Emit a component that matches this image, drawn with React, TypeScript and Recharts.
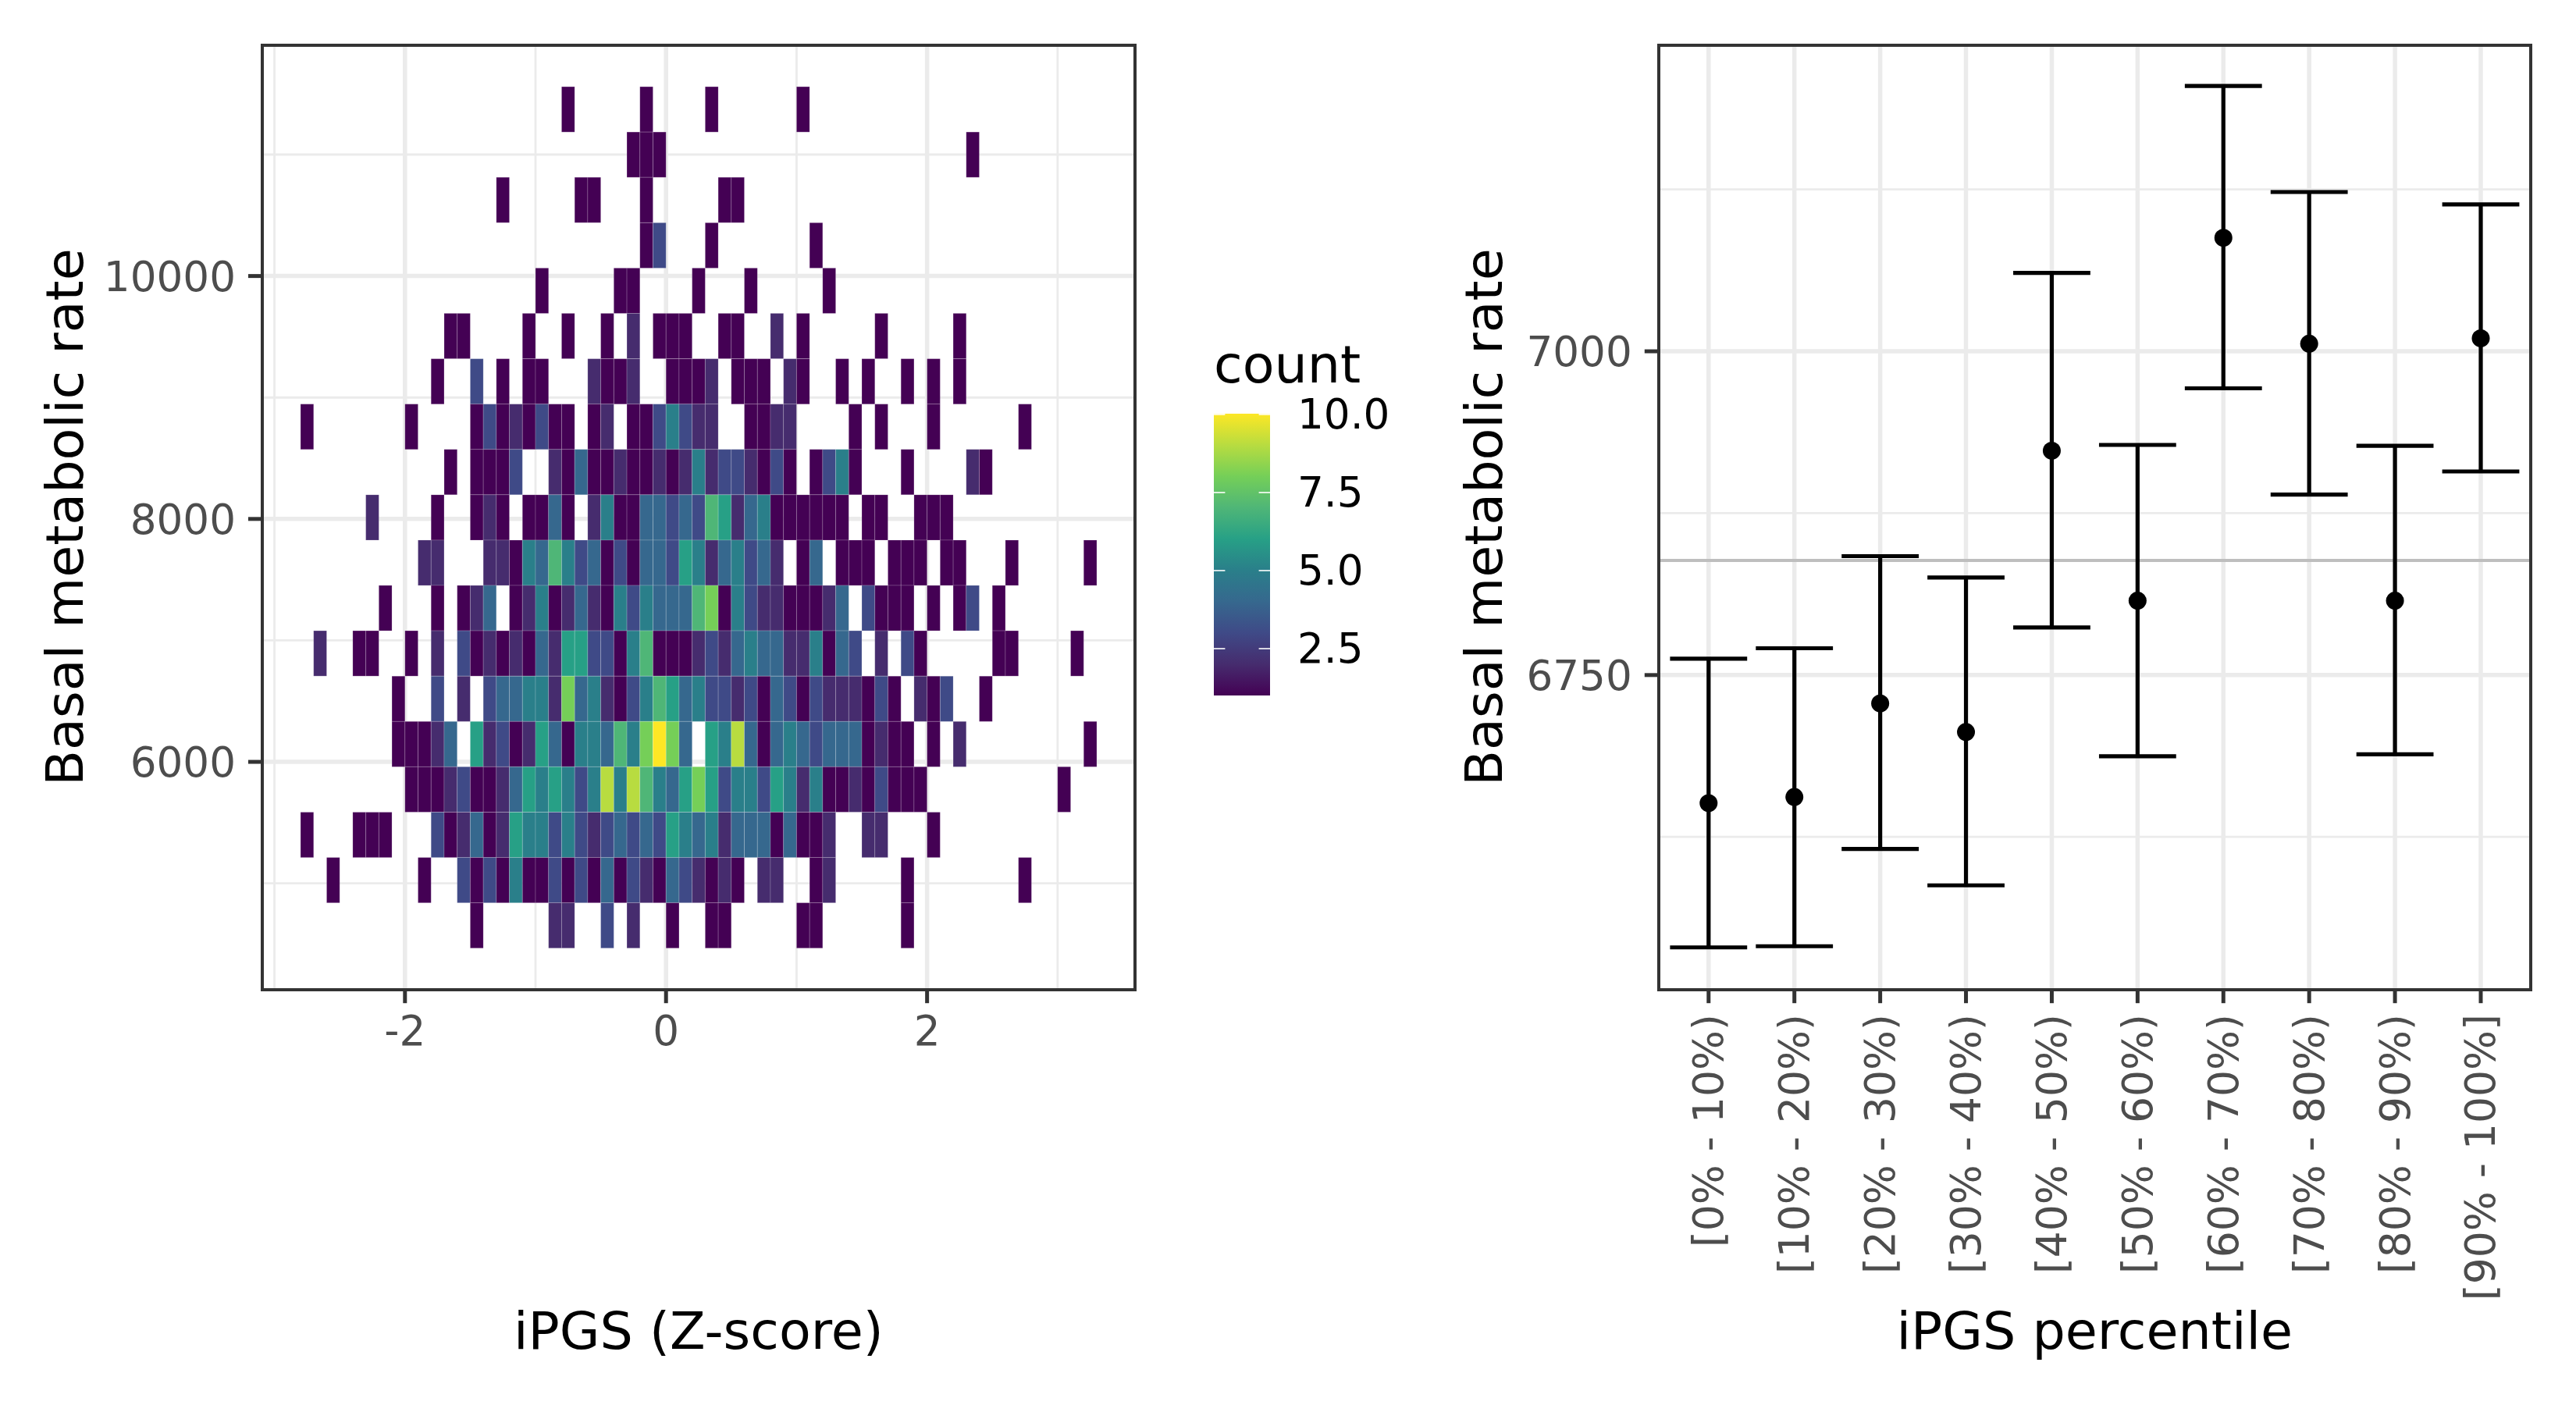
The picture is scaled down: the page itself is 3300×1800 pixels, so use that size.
import React from "react";
import { ScatterChart, Scatter, XAxis, YAxis, ReferenceLine, ErrorBar } from "recharts";

// ---------- left panel: 2D histogram, [column index (x bin of 0.1), count] per row ----------
const rowCentres = [11372, 10999, 10626, 10252, 9879, 9506, 9132, 8759, 8386, 8012, 7639, 7266, 6893, 6519, 6146, 5773, 5399, 5026, 4653];
const row01 = [[-8,1],[-2,1],[3,1],[10,1]];
const row02 = [[-3,1],[-2,1],[-1,1],[23,1]];
const row03 = [[-13,1],[-7,1],[-6,1],[-2,1],[4,1],[5,1]];
const row04 = [[-2,1],[-1,3],[3,1],[11,1]];
const row05 = [[-10,1],[-4,1],[-3,1],[2,1],[6,1],[12,1]];
const row06 = [[-17,1],[-16,1],[-11,1],[-8,1],[-5,1],[-3,2],[-1,1],[0,1],[1,1],[4,1],[5,1],[8,2],[10,1],[16,1],[22,1]];
const row07 = [[-18,1],[-15,3],[-13,1],[-11,1],[-10,1],[-6,2],[-5,1],[-4,1],[-3,2],[0,1],[1,1],[2,1],[3,2],[5,1],[6,1],[7,1],[9,2],[10,1],[13,1],[15,1],[18,1],[20,1],[22,1]];
const row08 = [[-28,1],[-20,1],[-15,1],[-14,3],[-13,1],[-12,2],[-11,1],[-10,3],[-9,1],[-8,1],[-6,1],[-5,2],[-3,1],[-2,1],[-1,3],[0,5],[1,3],[2,2],[3,2],[6,1],[7,1],[8,2],[9,2],[14,1],[16,1],[20,1],[27,1]];
const row09 = [[-17,1],[-15,1],[-14,1],[-13,1],[-12,3],[-9,2],[-8,1],[-7,4],[-6,1],[-5,1],[-4,2],[-3,1],[-2,1],[-1,2],[0,1],[1,2],[2,5],[3,2],[4,3],[5,3],[6,2],[7,1],[8,3],[9,1],[11,1],[12,3],[13,5],[14,1],[18,1],[23,2],[24,1]];
const row10 = [[-23,2],[-18,1],[-15,1],[-14,2],[-13,1],[-11,1],[-10,1],[-9,4],[-8,1],[-6,2],[-5,5],[-4,1],[-3,1],[-2,4],[-1,4],[0,3],[1,4],[2,3],[3,7],[4,6],[5,2],[6,4],[7,5],[8,1],[9,1],[10,1],[11,1],[12,1],[13,1],[15,1],[16,1],[19,1],[20,1],[21,1]];
const row11 = [[-19,2],[-18,2],[-14,2],[-13,2],[-12,1],[-11,5],[-10,4],[-9,7],[-8,5],[-7,3],[-6,4],[-5,1],[-4,3],[-3,1],[-2,4],[-1,4],[0,3],[1,6],[2,5],[3,2],[4,4],[5,5],[6,3],[7,4],[8,2],[10,1],[11,4],[13,1],[14,1],[15,1],[17,1],[18,1],[19,1],[21,1],[22,1],[26,1],[32,1]];
const row12 = [[-22,1],[-18,1],[-16,1],[-15,2],[-14,4],[-12,1],[-11,2],[-10,5],[-9,1],[-8,2],[-7,4],[-6,2],[-5,1],[-4,5],[-3,3],[-2,5],[-1,4],[0,4],[1,4],[2,7],[3,8],[4,1],[5,5],[6,3],[7,2],[8,2],[9,1],[10,1],[11,1],[12,2],[13,4],[15,3],[16,1],[17,1],[18,1],[20,1],[22,1],[23,3],[25,1]];
const row13 = [[-27,2],[-24,1],[-23,1],[-20,1],[-18,2],[-16,3],[-15,1],[-14,2],[-13,1],[-12,2],[-11,1],[-10,4],[-9,2],[-8,6],[-7,6],[-6,3],[-5,3],[-4,1],[-3,5],[-2,7],[-1,1],[0,1],[1,1],[2,2],[3,3],[4,2],[5,4],[6,5],[7,4],[8,4],[9,2],[10,2],[11,5],[12,1],[13,4],[14,3],[16,2],[18,3],[19,1],[25,1],[26,1],[31,1]];
const row14 = [[-21,1],[-18,3],[-16,2],[-14,3],[-13,4],[-12,4],[-11,5],[-10,5],[-9,2],[-8,8],[-7,4],[-6,5],[-5,2],[-4,1],[-3,3],[-2,5],[-1,7],[0,6],[1,4],[2,5],[3,3],[4,3],[5,2],[6,3],[7,1],[8,4],[9,3],[10,1],[11,3],[12,2],[13,2],[14,2],[15,1],[16,3],[17,1],[19,2],[20,1],[21,3],[24,1]];
const row15 = [[-21,1],[-20,1],[-19,1],[-18,2],[-17,4],[-15,6],[-14,2],[-13,3],[-12,1],[-11,2],[-10,6],[-9,4],[-8,1],[-7,5],[-6,5],[-5,4],[-4,7],[-3,5],[-2,8],[-1,10],[0,8],[1,4],[3,6],[4,5],[5,9],[6,4],[7,1],[8,4],[9,5],[10,4],[11,3],[12,4],[13,4],[14,4],[15,1],[16,2],[17,1],[18,1],[20,1],[22,2],[32,1]];
const row16 = [[-20,1],[-19,1],[-18,1],[-17,2],[-16,3],[-15,1],[-14,1],[-13,2],[-12,4],[-11,6],[-10,5],[-9,6],[-8,5],[-7,3],[-6,5],[-5,9],[-4,5],[-3,9],[-2,7],[-1,5],[0,4],[1,6],[2,8],[3,6],[4,3],[5,5],[6,5],[7,3],[8,6],[9,5],[10,2],[11,5],[12,1],[13,1],[14,2],[15,1],[16,3],[17,1],[18,1],[19,1],[30,1]];
const row17 = [[-28,1],[-24,1],[-23,1],[-22,1],[-18,3],[-17,1],[-16,2],[-15,4],[-14,1],[-13,2],[-12,6],[-11,5],[-10,5],[-9,3],[-8,5],[-7,3],[-6,2],[-5,3],[-4,4],[-3,3],[-2,4],[-1,3],[0,6],[1,5],[2,4],[3,5],[4,2],[5,4],[6,4],[7,4],[8,1],[9,4],[10,1],[11,1],[12,2],[15,2],[16,2],[20,1]];
const row18 = [[-26,1],[-19,1],[-16,3],[-15,1],[-14,3],[-13,1],[-12,5],[-11,1],[-10,1],[-9,3],[-8,1],[-7,3],[-6,1],[-5,4],[-4,1],[-3,3],[-2,2],[-1,1],[0,4],[1,3],[2,2],[3,1],[4,2],[5,1],[7,2],[8,2],[11,1],[12,2],[18,1],[27,1]];
const row19 = [[-15,1],[-9,2],[-8,2],[-5,3],[-3,2],[0,1],[3,1],[4,1],[10,1],[11,1],[18,1]];
const heatRows = [row01,row02,row03,row04,row05,row06,row07,row08,row09,row10,row11,row12,row13,row14,row15,row16,row17,row18,row19];

const zTicksMajor = [-2, 0, 2];
const zTicksMinor = [-3, -1, 1, 3];
const bmrTicksMajor = [6000, 8000, 10000];
const bmrTicksMinor = [5000, 7000, 9000, 11000];

// ---------- right panel: percentile bins ----------
const percentileBins = ["[0% - 10%)","[10% - 20%)","[20% - 30%)","[30% - 40%)","[40% - 50%)","[50% - 60%)","[60% - 70%)","[70% - 80%)","[80% - 90%)","[90% - 100%]"];
const binMeans = [6651.1, 6655.8, 6728.1, 6706, 6923.2, 6807.4, 7087.6, 7005.9, 6807.4, 7010];
const binLower = [6539.7, 6540.6, 6615.7, 6587.6, 6786.7, 6687.3, 6971.4, 6889.3, 6688.8, 6907.2];
const binUpper = [6762.6, 6770.7, 6841.8, 6825.3, 7060.5, 6927.7, 7204.9, 7123, 6927, 7113.4];
const overallMean = 6838.5;
const rightTicksMajor = [6750, 7000];
const rightTicksMinor = [6625, 6875, 7125];

const countLegendTicks = [2.5, 5, 7.5, 10];
const countPalette = ["#440154","#462c6e","#3f4a87","#36688e","#2a7f8a","#27a086","#4fb677","#75cf58","#b8dc40","#fde725"];

const FONT = "'DejaVu Sans'";
const GRID = "#ebebeb";
const X_DOMAIN = [-3.095, 3.593];
const Y_DOMAIN = [4127, 11903];
const L = { left: 335.7, right: 1454, top: 57.5, bottom: 1267.5 };
const R = { left: 2124.5, right: 3242, top: 57.5, bottom: 1267.5 };
const BIN_PX_W = ((L.right - L.left) / (X_DOMAIN[1] - X_DOMAIN[0])) * 0.1;
const BIN_PX_H = ((L.bottom - L.top) / (Y_DOMAIN[1] - Y_DOMAIN[0])) * 373.3;

const heatCells = heatRows.flatMap((row, i) => row.map(([k, n]) => ({ x: (k + 0.5) * 0.1, y: rowCentres[i], n })));
const pointRows = percentileBins.map((bin, i) => ({
  bin,
  mean: binMeans[i],
  err: [binMeans[i] - binLower[i], binUpper[i] - binMeans[i]],
}));

const HeatCell = (p: any) => (
  <rect
    x={p.cx - BIN_PX_W / 2}
    y={p.cy - BIN_PX_H / 2}
    width={BIN_PX_W}
    height={BIN_PX_H}
    fill={countPalette[p.payload.n - 1]}
    stroke="rgba(255,255,255,0.18)"
    strokeWidth={1}
  />
);
const Dot = (p: any) => <circle cx={p.cx} cy={p.cy} r={11.5} fill="#000" />;

const RotatedTick = (p: any) => (
  <text
    x={p.x}
    y={p.y}
    transform={`rotate(-90 ${p.x} ${p.y})`}
    textAnchor="end"
    dominantBaseline="central"
    fontFamily={FONT}
    fontSize={53.5}
    fill="#4d4d4d"
  >
    {p.payload.value}
  </text>
);

const tickStyle = { fontFamily: FONT, fontSize: 53.2, fill: "#4d4d4d" };
const titleStyle = { fontFamily: FONT, fontSize: 66.7, fill: "#000" };
const tickLine = { stroke: "#333", strokeWidth: 5 };

const Frame = ({ b }: { b: typeof L }) => (
  <div
    style={{
      position: "absolute",
      left: b.left - 2,
      top: b.top - 2,
      width: b.right - b.left + 4,
      height: b.bottom - b.top + 4,
      boxSizing: "border-box",
      border: "4px solid #333",
      pointerEvents: "none",
    }}
  />
);

const major = (k: string, props: any) => <ReferenceLine key={k} {...props} stroke={GRID} strokeWidth={5.5} />;
const minor = (k: string, props: any) => <ReferenceLine key={k} {...props} stroke={GRID} strokeWidth={2.8} />;

export default function App() {
  return (
    <div style={{ position: "absolute", left: 0, top: 0, width: 3300, height: 1800, background: "#fff", overflow: "hidden" }}>
      <div style={{ position: "absolute", left: 0, top: 0 }}>
        <ScatterChart width={1500} height={1800} margin={{ top: L.top, right: 1500 - L.right, left: 0, bottom: 0 }}>
          <XAxis
            type="number"
            dataKey="x"
            domain={X_DOMAIN}
            ticks={zTicksMajor}
            allowDataOverflow
            height={1800 - L.bottom}
            tick={tickStyle}
            tickLine={tickLine}
            axisLine={false}
            tickSize={17.7}
            tickMargin={16}
            interval={0}
            label={{ value: "iPGS (Z-score)", position: "insideBottom", offset: 72, style: titleStyle }}
          />
          <YAxis
            type="number"
            dataKey="y"
            domain={Y_DOMAIN}
            ticks={bmrTicksMajor}
            allowDataOverflow
            width={L.left}
            tick={tickStyle}
            tickLine={tickLine}
            axisLine={false}
            tickSize={17.7}
            tickMargin={16}
            interval={0}
            label={{ value: "Basal metabolic rate", angle: -90, position: "insideLeft", offset: 82, style: { ...titleStyle, textAnchor: "middle" } }}
          />
          {bmrTicksMinor.map((v) => minor(`ym${v}`, { y: v }))}
          {zTicksMinor.map((v) => minor(`xm${v}`, { x: v }))}
          {bmrTicksMajor.map((v) => major(`yM${v}`, { y: v }))}
          {zTicksMajor.map((v) => major(`xM${v}`, { x: v }))}
          <Scatter data={heatCells} shape={HeatCell} isAnimationActive={false} />
        </ScatterChart>
      </div>
      <Frame b={L} />

      <div style={{ position: "absolute", left: 1800, top: 0 }}>
        <ScatterChart width={1500} height={1800} margin={{ top: R.top, right: 3300 - R.right, left: 0, bottom: 0 }}>
          <XAxis
            type="category"
            dataKey="bin"
            scale="point"
            allowDuplicatedCategory={false}
            padding={{ left: 64.3, right: 64 }}
            height={1800 - R.bottom}
            tick={RotatedTick}
            tickLine={tickLine}
            axisLine={false}
            tickSize={17.7}
            tickMargin={14}
            interval={0}
            label={{ value: "iPGS percentile", position: "insideBottom", offset: 72, style: titleStyle }}
          />
          <YAxis
            type="number"
            dataKey="mean"
            domain={[6507.3, 7236.6]}
            ticks={rightTicksMajor}
            allowDataOverflow
            width={R.left - 1800}
            tick={tickStyle}
            tickLine={tickLine}
            axisLine={false}
            tickSize={17.7}
            tickMargin={16}
            interval={0}
            label={{ value: "Basal metabolic rate", angle: -90, position: "insideLeft", offset: 100, style: { ...titleStyle, textAnchor: "middle" } }}
          />
          {rightTicksMinor.map((v) => minor(`rm${v}`, { y: v }))}
          {rightTicksMajor.map((v) => major(`rM${v}`, { y: v }))}
          {percentileBins.map((b) => major(`rx${b}`, { x: b }))}
          <ReferenceLine y={overallMean} stroke="#bebebe" strokeWidth={4} />
          <Scatter data={pointRows} shape={Dot} isAnimationActive={false}>
            <ErrorBar dataKey="err" direction="y" width={49.4} stroke="#000" strokeWidth={5.2} isAnimationActive={false} />
          </Scatter>
        </ScatterChart>
      </div>
      <Frame b={R} />

      <svg width={3300} height={1800} style={{ position: "absolute", left: 0, top: 0, pointerEvents: "none" }}>
        <defs>
          <linearGradient id="countBar" x1="0" y1="1" x2="0" y2="0">
            {countPalette.map((c, i) => (
              <stop key={c} offset={i / (countPalette.length - 1)} stopColor={c} />
            ))}
          </linearGradient>
        </defs>
        <text x={1555} y={490} fontFamily={FONT} fontSize={66.7} fill="#000">count</text>
        <rect x={1555} y={530} width={72} height={361} fill="url(#countBar)" />
        {countLegendTicks.map((t) => {
          const y = 891 - ((t - 1) / 9) * 360;
          return (
            <g key={t}>
              <line x1={1555} x2={1569.4} y1={y} y2={y} stroke="#fff" strokeWidth={1.6} />
              <line x1={1612.6} x2={1627} y1={y} y2={y} stroke="#fff" strokeWidth={1.6} />
              <text x={1662} y={y} fontFamily={FONT} fontSize={53.2} fill="#000" dominantBaseline="central">
                {t.toFixed(1)}
              </text>
            </g>
          );
        })}
      </svg>
    </div>
  );
}
